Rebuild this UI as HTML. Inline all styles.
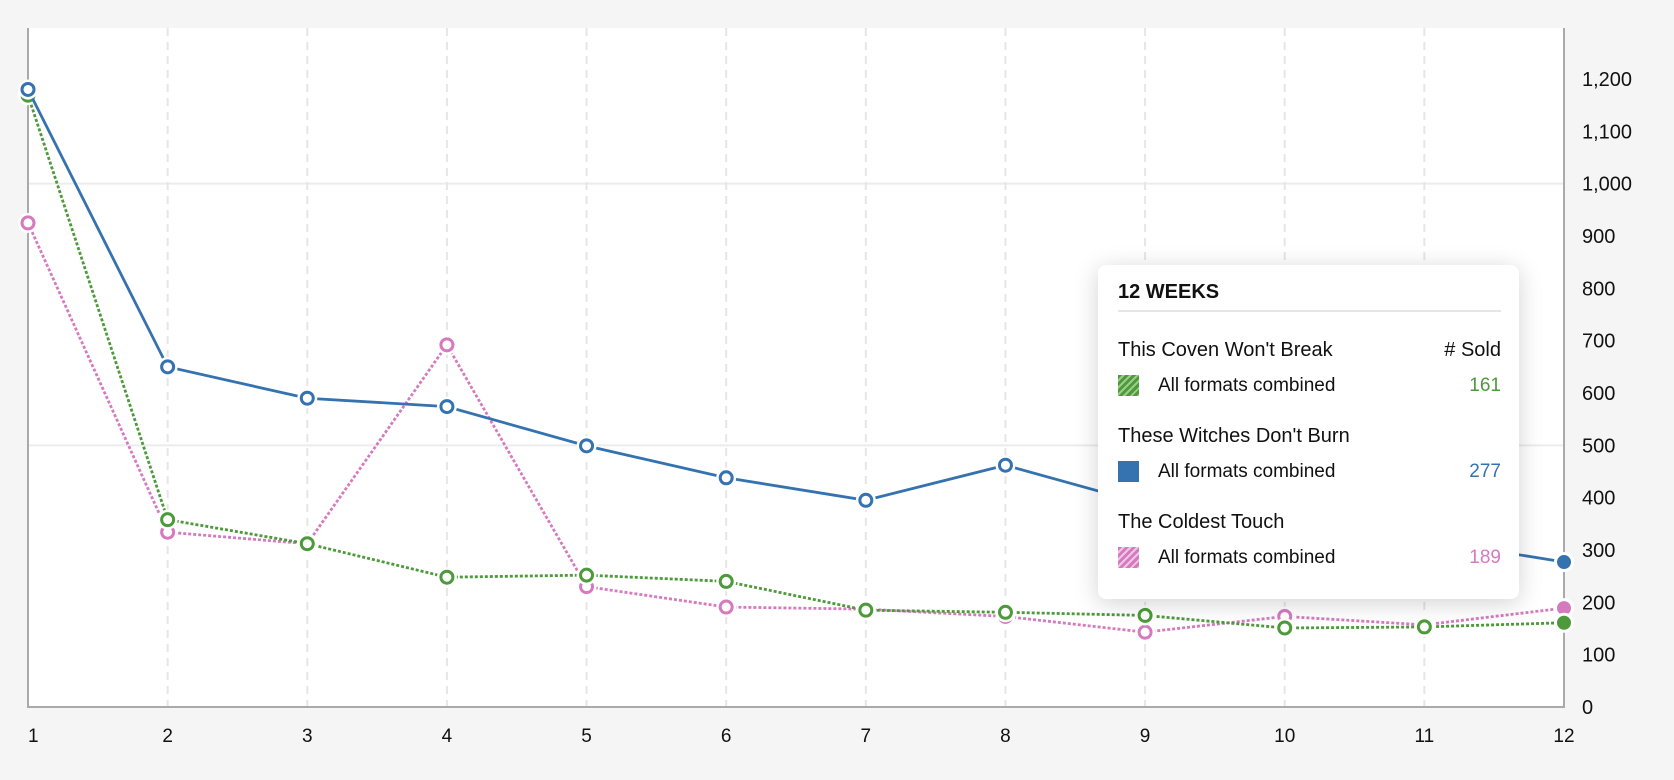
<!DOCTYPE html>
<html><head><meta charset="utf-8">
<style>
html,body{margin:0;padding:0;background:#f5f5f5;width:1674px;height:780px;overflow:hidden;font-family:"Liberation Sans",sans-serif;}
svg{position:absolute;left:0;top:0}
#tip{position:absolute;left:1098px;top:265px;width:421px;height:334px;background:#fff;border-radius:8px;box-shadow:0 4px 24px rgba(0,0,0,0.18);box-sizing:border-box;padding:0 18px 0 20px;color:#111}
#tip .t{font-weight:bold;font-size:20px;margin-top:16px;padding-bottom:6px;border-bottom:2px solid #e6e6e6}
.row{display:flex;justify-content:space-between;align-items:center;font-size:20px;height:36px}
.sw{width:21px;height:21px;display:inline-block;margin-right:19px;vertical-align:middle}
.sub{font-size:19px}
</style></head><body>
<svg id="chart" width="1674" height="780"></svg>
<div id="tip">
 <div class="t">12 WEEKS</div>
 <div class="row" style="margin-top:20px"><span>This Coven Won't Break</span><span># Sold</span></div>
 <div class="row sub"><span><span class="sw" style="background:repeating-linear-gradient(135deg,#4c9a3a 0 3px,#9ccc8c 3px 5px)"></span>All formats combined</span><span style="color:#4c9a3a">161</span></div>
 <div class="row" style="margin-top:14px"><span>These Witches Don't Burn</span></div>
 <div class="row sub"><span><span class="sw" style="background:#3572b0"></span>All formats combined</span><span style="color:#3572b0">277</span></div>
 <div class="row" style="margin-top:14px"><span>The Coldest Touch</span></div>
 <div class="row sub"><span><span class="sw" style="background:repeating-linear-gradient(135deg,#d67ac0 0 3px,#f0c6e6 3px 5px)"></span>All formats combined</span><span style="color:#d67ac0">189</span></div>
</div>
<script>
const weeks=[1,2,3,4,5,6,7,8,9,10,11,12];
const yTicks=[0,100,200,300,400,500,600,700,800,900,1000,1100,1200];
const witches=[1180,650,590,574,499,438,395,462,388,345,320,277];
const coven=[1169,358,312,248,252,240,185,181,175,151,153,161];
const coldest=[925,334,312,692,230,191,187,173,143,173,157,189];
const L=28,R=1564,T=28,B=707;
const x=w=>L+(w-1)*(R-L)/11;
const y=v=>B-v*(B-79)/1200;
const NS="http://www.w3.org/2000/svg",svg=document.getElementById('chart');
function mk(t,a,p){const e=document.createElementNS(NS,t);for(const k in a)e.setAttribute(k,a[k]);(p||svg).appendChild(e);return e;}
const bg=mk('rect',{x:L,y:T,width:R-L,height:B-T,fill:'#fff'});


[500,1000].forEach(v=>{const g=mk('line',{x1:L,x2:R,y1:y(v),y2:y(v),stroke:'#ececec','stroke-width':2});

});
weeks.slice(1,11).forEach(w=>{const g=mk('line',{x1:x(w),x2:x(w),y1:T,y2:B,stroke:'#e6e6e6','stroke-width':2,'stroke-dasharray':'8,6'});

});
const ax=mk('path',{d:`M${L},${T}V${B}H${R}V${T}`,fill:'none',stroke:'#aaa','stroke-width':2});


yTicks.forEach(v=>{const t=mk('text',{x:1582,y:y(v)+7,'font-size':20,fill:'#111'});t.textContent=v.toLocaleString('en-US');

});
weeks.forEach(w=>{const t=mk('text',{x:x(w),y:742,'font-size':19,fill:'#111','text-anchor':w==1?'start':'middle'});t.textContent=w;

});
function series(data,color,dash,name){
 const g=mk('g',{});
 
 
 const p=mk('polyline',{points:data.map((v,i)=>x(weeks[i])+','+y(v)).join(' '),fill:'none',stroke:color,'stroke-width':2.8,'stroke-dasharray':dash||'none'},g);
 
 
 data.forEach((v,i)=>{
  const last=i==data.length-1;
  const h=mk('circle',{cx:x(weeks[i]),cy:y(v),r:10,fill:'#fff'},g);
  
  
  const c=mk('circle',{cx:x(weeks[i]),cy:y(v),r:last?8:6,fill:last?color:'#fff',stroke:last?'#fff':color,'stroke-width':last?2:3},g);
  
  
 });
}
series(coldest,'#d67ac0','3,2','coldest-touch');
series(coven,'#4c9a3a','3,2','coven');
series(witches,'#3572b0',null,'witches');
</script>
</body></html>
